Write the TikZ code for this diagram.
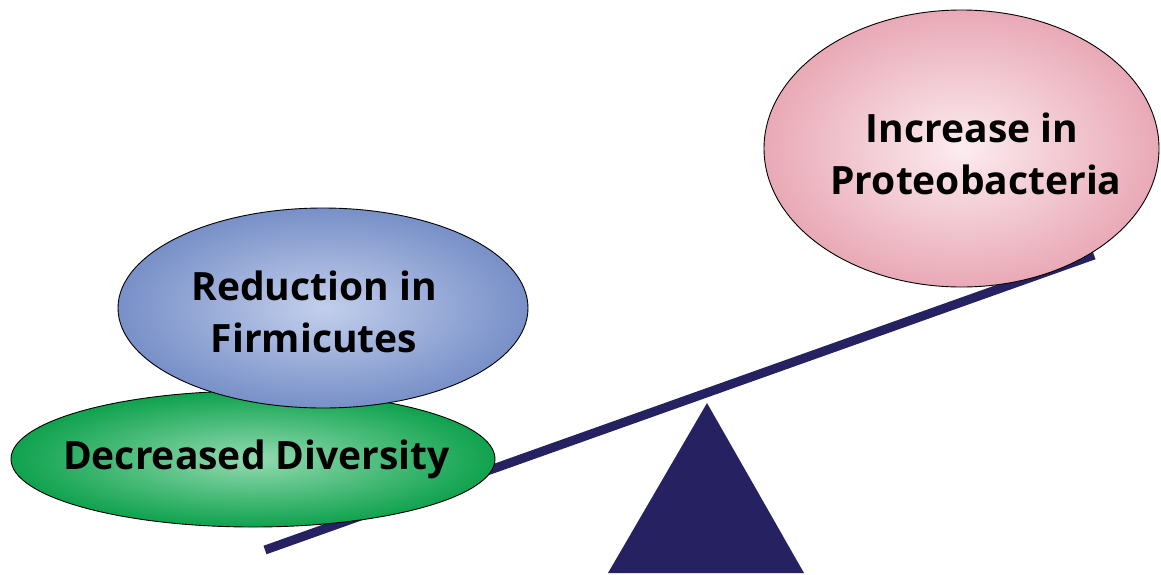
\documentclass[tikz,border=0pt]{standalone}
\usepackage{fontspec}
\setmainfont{Open Sans}
\usetikzlibrary{shapes.geometric}
\definecolor{navy}{HTML}{262262}
\definecolor{greenout}{HTML}{0FA24E}
\definecolor{greenin}{HTML}{93DBB0}
\definecolor{blueout}{HTML}{7890C8}
\definecolor{bluein}{HTML}{C3CFEC}
\definecolor{pinkout}{HTML}{E9A9B6}
\definecolor{pinkin}{HTML}{FCECF0}
\tikzset{
  blob/.style={ellipse, draw=black, line width=0.9pt, inner sep=0pt, shading=radial},
  lbl/.style={anchor=base, inner sep=0pt, font=\fontsize{39}{52}\selectfont\bfseries, text=black},
  beam/.style={draw=navy, line width=9pt, line cap=butt},
}
\begin{document}
\begin{tikzpicture}[x=1pt,y=-1pt]
\useasboundingbox (0,0) rectangle (1161,574);
% beam
\coordinate (bl) at (265,550);
\coordinate (br) at (1094,255);
\draw[beam] (bl) -- (br);
% fulcrum
\coordinate (apex) at (707,403);
\coordinate (fl) at (608,573);
\coordinate (fr) at (804,573);
\fill[navy] (apex) -- (fr) -- (fl) -- cycle;
% ellipses
\node[blob, inner color=greenin, outer color=greenout, minimum width=484pt, minimum height=136pt] (green) at (253,459) {};
\node[blob, inner color=bluein, outer color=blueout, minimum width=410pt, minimum height=200pt] (blue) at (323,308) {};
\node[blob, inner color=pinkin, outer color=pinkout, minimum width=395pt, minimum height=277pt] (pink) at (961.5,148.5) {};
% labels
\node[lbl] (g1) at (256.5,469) {Decreased Diversity};
\node[lbl] (b1) at (314,300) {Reduction in};
\node[lbl] (b2) at (314,352) {Firmicutes};
\node[lbl] (p1) at (972,142) {Increase in};
\node[lbl] (p2) at (976,194) {Proteobacteria};
\end{tikzpicture}
\end{document}
